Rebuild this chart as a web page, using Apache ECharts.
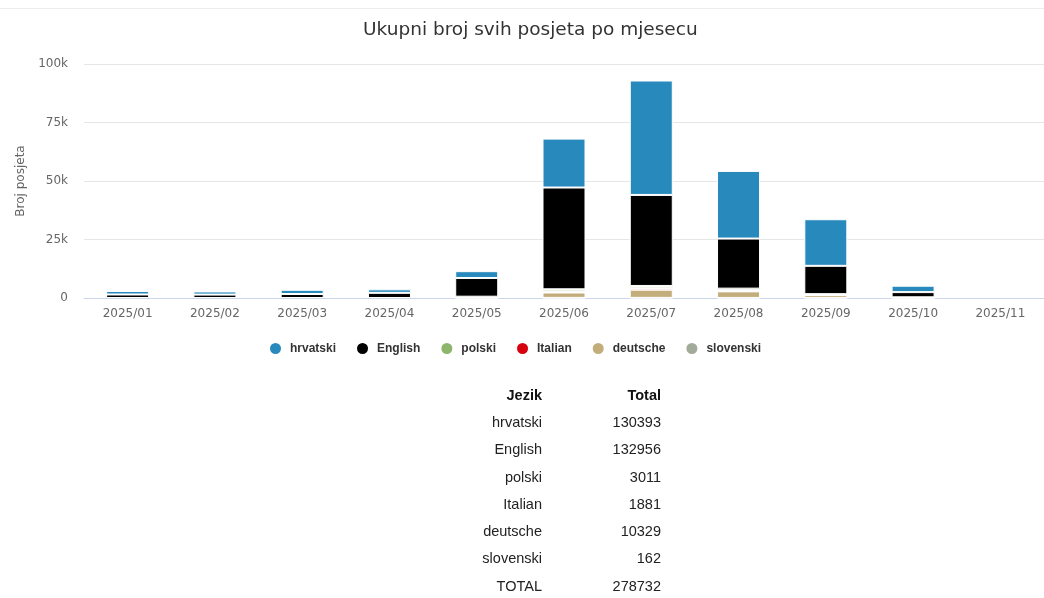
<!DOCTYPE html>
<html>
<head>
<meta charset="utf-8">
<script src="https://cdn.jsdelivr.net/npm/echarts@6/dist/echarts.min.js"></script>
<style>
    body { margin: 0; background: #fff; }
    #wrap { position: relative; width: 1044px; height: 598px; overflow: hidden; }
    #chart { position: absolute; left: 0; top: 0; width: 1044px; height: 598px; }
    #tbl { position: absolute; left: 470px; top: 381px; border-collapse: collapse;
           font-family: "Liberation Sans", Arial, sans-serif; font-size: 14.5px; color: #222; }
    #tbl td, #tbl th { padding: 0; height: 27.3px; text-align: right; }
    #tbl th { font-weight: bold; color: #111; }
    #tbl .c1 { width: 72px; }
    #tbl .c2 { width: 119px; }
</style>
</head>
<body>
<div id="wrap">
    <div id="chart"></div>
    <table id="tbl"></table>
</div>
<script>
    var months = ['2025/01','2025/02','2025/03','2025/04','2025/05','2025/06','2025/07','2025/08','2025/09','2025/10','2025/11'];
    var langs = ['hrvatski','English','polski','Italian','deutsche','slovenski'];
    var colors = ['#2889bd','#000000','#8db56b','#d7000f','#c2ad7b','#a2aa9a'];

    // null = no visits that month
    var hrvatski  = [1500, 1350, 1800, 1500, 2900, 20900, 48900, 28900, 19900, 2743, null];
    var english   = [1500, 1450, 1700, 2200, 8000, 43500, 38900, 21400, 12100, 2206, null];
    var polski    = [null, null, null, null, 150, 850, 950, 750, 260, 51, null];
    var italian   = [null, null, null, null, 100, 520, 640, 420, 170, 31, null];
    var deutsche  = [null, null, null, null, 300, 2300, 3500, 2800, 1210, 219, null];
    var slovenski = [null, null, null, null, 10, 45, 55, 32, 15, 5, null];

    var values = [hrvatski, english, polski, italian, deutsche, slovenski];

    // table with totals per language
    var sum = function (arr) { return arr.reduce(function (a, b) { return a + (b || 0); }, 0); };
    var html = '<tr><th class="c1">Jezik</th><th class="c2">Total</th></tr>';
    var grand = 0;
    for (var i = 0; i < langs.length; i++) {
        var t = sum(values[i]);
        grand += t;
        html += '<tr><td class="c1">' + langs[i] + '</td><td class="c2">' + t + '</td></tr>';
    }
    html += '<tr><td class="c1">TOTAL</td><td class="c2">' + grand + '</td></tr>';
    document.getElementById('tbl').innerHTML = html;

    // stacked in reverse so hrvatski sits on top
    var series = [];
    for (var j = langs.length - 1; j >= 0; j--) {
        series.push({
            name: langs[j],
            type: 'bar',
            stack: 'all',
            barWidth: 43,
            data: values[j],
            itemStyle: { color: colors[j], borderColor: '#fff', borderWidth: 1 },
            emphasis: { disabled: true }
        });
    }

    var myChart = echarts.init(document.getElementById('chart'));
    myChart.setOption({
        animation: false,
        color: colors,
        title: {
            text: 'Ukupni broj svih posjeta po mjesecu',
            left: 358,
            top: 16,
            textStyle: { fontFamily: 'DejaVu Sans', fontSize: 18.5, fontWeight: 'normal', color: '#333' }
        },
        graphic: [{
            type: 'line',
            shape: { x1: 0, y1: 8.5, x2: 1044, y2: 8.5 },
            style: { stroke: '#ececec', lineWidth: 1 }
        }],
        legend: {
            data: langs,
            left: 263,
            top: 336,
            icon: 'circle',
            itemWidth: 13,
            itemHeight: 13,
            itemGap: 19,
            textStyle: { fontFamily: 'Liberation Sans', fontSize: 12, fontWeight: 'bold', color: '#333', padding: [0, 0, 0, 3] }
        },
        grid: { left: 84, top: 64, width: 967, height: 234, containLabel: false },
        xAxis: {
            type: 'category',
            data: months,
            axisLine: { lineStyle: { color: '#ccd6eb' } },
            axisTick: { show: false },
            axisLabel: { fontFamily: 'DejaVu Sans', fontSize: 12, color: '#666', margin: 10 }
        },
        yAxis: {
            type: 'value',
            min: 0,
            max: 100000,
            interval: 25000,
            name: 'Broj posjeta',
            nameLocation: 'middle',
            nameGap: 54,
            nameTextStyle: { fontFamily: 'DejaVu Sans', fontSize: 12, color: '#666' },
            splitLine: { lineStyle: { color: '#e6e6e6' } },
            axisLabel: {
                fontFamily: 'DejaVu Sans', fontSize: 12, color: '#666', margin: 16,
                formatter: function (v) { return v === 0 ? '0' : (v / 1000) + 'k'; }
            }
        },
        series: series
    });
</script>
</body>
</html>
